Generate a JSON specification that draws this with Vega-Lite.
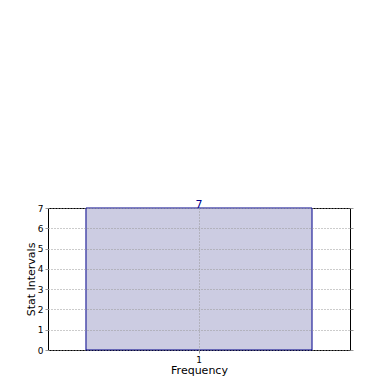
{
  "$schema": "https://vega.github.io/schema/vega-lite/v6.json",
  "autosize": "none",
  "width": 302,
  "height": 142,
  "padding": {"left": 48, "top": 208, "right": 40, "bottom": 40},
  "background": "white",
  "config": {
    "font": "DejaVu Sans",
    "view": {"stroke": "black", "strokeWidth": 1},
    "axis": {
      "labelFont": "DejaVu Sans",
      "titleFont": "DejaVu Sans",
      "labelFontSize": 9,
      "titleFontSize": 11,
      "titleFontWeight": "normal",
      "labelColor": "black",
      "titleColor": "black",
      "domain": false,
      "tickColor": "#999999",
      "tickSize": 3,
      "gridColor": "#999999",
      "gridDash": [1, 2],
      "gridOpacity": 1,
      "gridWidth": 1
    }
  },
  "data": {"values": [{"category": "1", "frequency": 7}]},
  "layer": [
    {
      "mark": {"type": "bar", "fill": "#ccccE2", "stroke": "#00008b", "strokeWidth": 1},
      "encoding": {
        "x": {
          "field": "category", "type": "nominal",
          "scale": {"paddingInner": 0, "paddingOuter": 0.168},
          "axis": {"title": "Frequency", "labelAngle": 0, "grid": true, "zindex": 1, "titlePadding": 0, "labelPadding": 2}
        },
        "y": {
          "field": "frequency", "type": "quantitative",
          "scale": {"domain": [0, 7], "nice": false},
          "axis": {"title": "Stat Intervals", "values": [0,1,2,3,4,5,6,7], "grid": true, "zindex": 1, "titlePadding": 1, "labelPadding": 2}
        }
      }
    },
    {
      "mark": {"type": "text", "baseline": "alphabetic", "dy": 0, "color": "#00008b", "fontSize": 11, "font": "DejaVu Sans"},
      "encoding": {
        "x": {"field": "category", "type": "nominal"},
        "y": {"field": "frequency", "type": "quantitative", "axis": {"orient": "right", "labels": false, "title": null, "grid": false, "values": [0,1,2,3,4,5,6,7], "tickSize": 3, "domain": false}},
        "text": {"field": "frequency", "type": "quantitative"}
      }
    }
  ],
  "resolve": {"axis": {"y": "independent"}}
}
